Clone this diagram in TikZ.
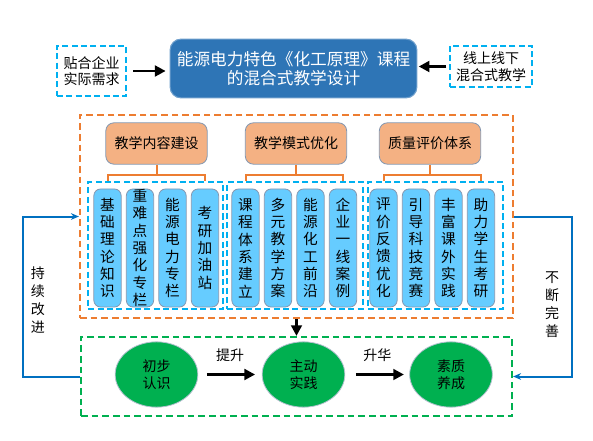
\documentclass[tikz,border=0pt]{standalone}
\usepackage{fontspec}
\setmainfont{Noto Sans CJK SC}
\usepackage{tikz}
\usetikzlibrary{positioning, arrows.meta, shapes.geometric}

\definecolor{titleblue}{RGB}{46,117,182}
\definecolor{catfill}{RGB}{244,177,131}
\definecolor{itemfill}{RGB}{102,204,255}
\definecolor{boxedge}{RGB}{132,151,176}
\definecolor{cyanline}{RGB}{0,176,240}
\definecolor{orangeline}{RGB}{237,125,49}
\definecolor{greenline}{RGB}{0,176,80}
\definecolor{loopblue}{RGB}{0,112,192}

\begin{document}
\begin{tikzpicture}[x=30pt, y=30pt,
    titlebox/.style={rectangle, rounded corners=8pt, draw=titleblue!70!white, fill=titleblue,
                     text=white, line width=0.8pt, minimum width=185pt, minimum height=44pt,
                     align=center, font=\fontsize{12.5}{14.5}\selectfont},
    sidebox/.style={rectangle, draw=cyanline, dash pattern=on 4.5pt off 2.5pt, line width=1.6pt,
                    align=center, font=\fontsize{10.5}{12.5}\selectfont},
    catbox/.style={rectangle, rounded corners=6pt, draw=boxedge, fill=catfill, line width=0.6pt,
                   minimum width=76pt, minimum height=31pt, font=\fontsize{10.5}{12}\selectfont},
    itembox/.style={rectangle, rounded corners=5pt, draw=boxedge, fill=itemfill, line width=0.6pt,
                    minimum width=20.5pt, minimum height=88.5pt, inner sep=0pt, align=center,
                    font=\fontsize{11}{13}\selectfont},
    groupbox/.style={rectangle, draw=cyanline, dash pattern=on 4.5pt off 2.5pt, line width=1.6pt,
                     minimum height=95pt},
    framebox/.style={rectangle, dash pattern=on 5pt off 3pt, line width=1.6pt},
    stage/.style={ellipse, draw=boxedge!60!white, fill=greenline, line width=0.6pt,
                  minimum width=62pt, minimum height=49pt, align=center,
                  font=\fontsize{10.5}{12.5}\selectfont},
    arrow/.style={-{Triangle[length=8pt, width=8pt]}, line width=2pt},
    bracket/.style={draw=orangeline, line width=1.5pt},
    loopline/.style={-{Stealth[length=6pt, width=5pt]}, draw=loopblue, line width=1.5pt},
    vlabel/.style={align=center, font=\fontsize{10.5}{13.5}\selectfont}
]

    \useasboundingbox (0,0) rectangle (14.825,11);

    % Top row
    \node[titlebox] (title) at (7.3375, 9.2875) {能源电力特色《化工原理》课程\\的混合式教学设计};
    \node[sidebox, minimum width=52pt, minimum height=37.5pt] (need) at (2.2875, 9.225) {贴合企业\\实际需求};
    \node[sidebox, minimum width=61.5pt, minimum height=31pt] (mode) at (12.275, 9.3375) {线上线下\\混合式教学};
    \draw[arrow, shorten <=4.5pt, shorten >=3pt] (need.east) -- (need.east -| title.west);
    \draw[arrow, shorten <=2pt, shorten >=1pt] (mode.west) -- (mode.west -| title.east);

    % Outer frames
    \node[framebox, draw=orangeline, minimum width=324.75pt, minimum height=152.25pt] (outer) at (7.4125, 5.5875) {};
    \node[framebox, draw=greenline, minimum width=323.25pt, minimum height=59.25pt] (result) at (7.4125, 1.5875) {};

    % Categories
    \node[catbox] (C1) at (3.9125, 7.4125) {教学内容建设};
    \node[catbox] (C2) at (7.4, 7.4125) {教学模式优化};
    \node[catbox] (C3) at (10.75, 7.4125) {质量评价体系};

    % Item groups
    \node[groupbox, minimum width=101pt] (G1) at (3.8875, 4.8625) {};
    \node[groupbox, minimum width=102pt] (G2) at (7.375, 4.8625) {};
    \node[groupbox, minimum width=101pt] (G3) at (10.8875, 4.8625) {};

    % Content items
    \node[itembox] (A1) at (2.6875, 4.8) {基\\础\\理\\论\\知\\识};
    \node[itembox] (A2) at (3.5, 4.8) {重\\难\\点\\强\\化\\专\\栏};
    \node[itembox] (A3) at (4.3125, 4.8) {能\\源\\电\\力\\专\\栏};
    \node[itembox] (A4) at (5.125, 4.8) {考\\研\\加\\油\\站};

    % Mode items
    \node[itembox] (B1) at (6.1375, 4.8) {课\\程\\体\\系\\建\\立};
    \node[itembox] (B2) at (6.95, 4.8) {多\\元\\教\\学\\方\\案};
    \node[itembox] (B3) at (7.7625, 4.8) {能\\源\\化\\工\\前\\沿};
    \node[itembox] (B4) at (8.575, 4.8) {企\\业\\一\\线\\案\\例};

    % Evaluation items
    \node[itembox] (E1) at (9.5875, 4.8) {评\\价\\反\\馈\\优\\化};
    \node[itembox] (E2) at (10.4, 4.8) {引\\导\\科\\技\\竞\\赛};
    \node[itembox] (E3) at (11.2125, 4.8) {丰\\富\\课\\外\\实\\践};
    \node[itembox] (E4) at (12.025, 4.8) {助\\力\\学\\生\\考\\研};

    % Brackets
    \draw[bracket] (C1.south) -- ++(0,-0.25) -| ([yshift=6pt]A1.north);
    \draw[bracket] (C1.south) ++(0,-0.25) -| ([yshift=6pt]A4.north);
    \draw[bracket] (C2.south) -- ++(0,-0.25) -| ([yshift=6pt]B1.north);
    \draw[bracket] (C2.south) ++(0,-0.25) -| ([yshift=6pt]B4.north);
    \draw[bracket] (C3.south) -- ++(0,-0.25) -| ([yshift=6pt]E1.north);
    \draw[bracket] (C3.south) ++(0,-0.25) -| ([yshift=6pt]E4.north);

    % Stages
    \node[stage] (S1) at (3.9125, 1.6375) {初步\\认识};
    \node[stage] (S2) at (7.5875, 1.6375) {主动\\实践};
    \node[stage] (S3) at (11.275, 1.6375) {素质\\养成};

    \draw[arrow] (outer.south) -- (result.north);
    \draw[arrow, shorten <=6.5pt, shorten >=5pt] (S1) -- node[above=5pt, font=\fontsize{10.5}{12}\selectfont] {提升} (S2);
    \draw[arrow, shorten <=8pt, shorten >=4pt] (S2) -- node[above=5pt, font=\fontsize{10.5}{12}\selectfont] {升华} (S3);

    % Feedback loops
    \draw[loopline] (result.west) -- ++(-1.425,0) |- (outer.west);
    \draw[loopline] (outer.east) -- ++(1.45,0) |- (result.east);
    \node[vlabel] (keep) at (0.95, 3.5) {持\\续\\改\\进};
    \node[vlabel] (refine) at (13.8, 3.375) {不\\断\\完\\善};

\end{tikzpicture}
\end{document}
